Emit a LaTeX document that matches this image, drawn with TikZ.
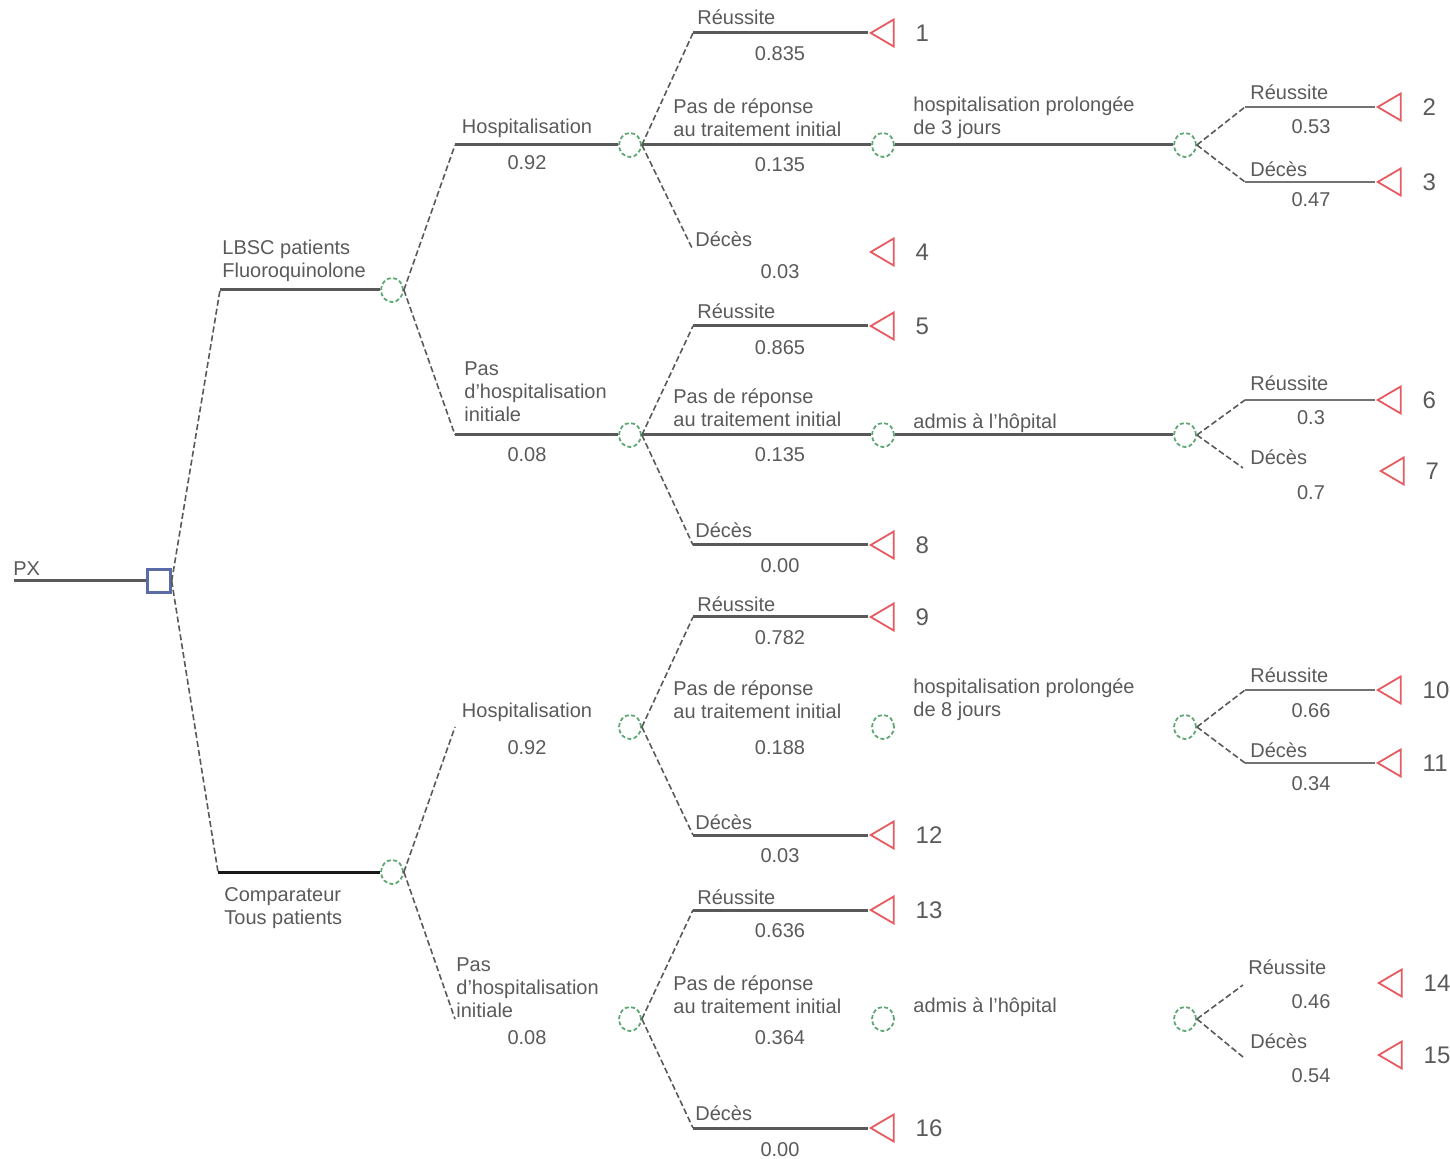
\documentclass[tikz,border=0pt]{standalone}
\usepackage{fontspec}
\setmainfont{Liberation Sans}
\usetikzlibrary{shapes.geometric}
\definecolor{decblue}{HTML}{5B6BA6}
\definecolor{chgreen}{HTML}{5FA874}
\definecolor{endred}{HTML}{E65A60}
\definecolor{txtgray}{HTML}{5A5A5A}

\begin{document}
\begin{tikzpicture}[x=.5pt,y=-.5pt,
    decision/.style={draw=decblue,line width=1.2pt,minimum size=11.5pt,inner sep=0pt},
    chance/.style={draw=chgreen,ellipse,line width=.9pt,dash pattern=on 2pt off 1.2pt,minimum width=11pt,minimum height=12pt,inner sep=0pt},
    ending/.style={draw=endred,isosceles triangle,shape border rotate=180,isosceles triangle stretches,minimum width=13.5pt,minimum height=11.5pt,inner sep=0pt,line width=.9pt,label={[endnum,label distance=7pt]right:#1}},
    endnum/.style={text=txtgray,font=\fontsize{12}{14}\selectfont},
    txt/.style={text=txtgray,font=\fontsize{10}{11.5}\selectfont,inner sep=0pt,align=left},
    branch/.style={draw=black!65,line width=1.5pt},
    subbranch/.style={draw=black!55,line width=.9pt},
    slant/.style={draw=black!65,line width=.8pt,dash pattern=on 3pt off 1.5pt}]
    \useasboundingbox (0,0) rectangle (1450,1159);

    % racine
    \coordinate (P0) at (14,581);
    \node[decision] (D0) at (159,581) {};
    \node[txt,anchor=south west] (LP) at (13,576) {PX};

    % premier niveau
    \coordinate (K1) at (220,290);
    \coordinate (K2) at (218,872);
    \node[chance] (C1) at (392,290) {};
    \node[chance] (C2) at (392,872) {};
    \node[txt,anchor=south west] (L1) at (222,282) {LBSC patients\\Fluoroquinolone};
    \node[txt,anchor=north west] (L2) at (224,887) {Comparateur\\Tous patients};

    % hospitalisation
    \coordinate (K11) at (455,145);
    \coordinate (K12) at (455,435);
    \coordinate (K21) at (455,727);
    \coordinate (K22) at (455,1019);
    \node[chance] (C11) at (630,145) {};
    \node[chance] (C12) at (630,435) {};
    \node[chance] (C21) at (630,727) {};
    \node[chance] (C22) at (630,1019) {};
    \node[txt] (L11) at (527,128) {Hospitalisation};
    \node[txt] (P11) at (527,163) {0.92};
    \node[txt,anchor=north west] (L12) at (464,361) {Pas\\d'hospitalisation\\initiale};
    \node[txt] (P12) at (527,455) {0.08};
    \node[txt] (L21) at (527,712) {Hospitalisation};
    \node[txt] (P21) at (527,748) {0.92};
    \node[txt,anchor=north west] (L22) at (456,957) {Pas\\d'hospitalisation\\initiale};
    \node[txt] (P22) at (527,1038) {0.08};

    % groupe 1
    \coordinate (K111) at (693,33);
    \coordinate (K113) at (693,250);
    \node[chance] (N1) at (883,145) {};
    \node[chance] (M1) at (1185,145) {};
    \node[ending=1] (T1) at (886,33) {};
    \node[ending=4] (T4) at (886,252) {};
    \node[txt,anchor=west] (L111) at (697,17) {Réussite};
    \node[txt] (P111) at (780,54) {0.835};
    \node[txt,anchor=west] (L112) at (673,118) {Pas de réponse\\au traitement initial};
    \node[txt] (P112) at (780,165) {0.135};
    \node[txt,anchor=west] (L113) at (695,239) {Décès};
    \node[txt] (P113) at (780,272) {0.03};
    \node[txt,anchor=west] (LN1) at (913,118) {hospitalisation prolongée\\de 3 jours};
    \coordinate (KM1a) at (1245,107);
    \coordinate (KM1b) at (1245,182);
    \node[ending=2] (T2) at (1393,107) {};
    \node[ending=3] (T3) at (1393,182) {};
    \node[txt,anchor=west] (LM1a) at (1250,92) {Réussite};
    \node[txt] (PM1a) at (1311,127) {0.53};
    \node[txt,anchor=west] (LM1b) at (1250,169) {Décès};
    \node[txt] (PM1b) at (1311,200) {0.47};

    % groupe 2
    \coordinate (K121) at (693,326);
    \coordinate (K123) at (693,545);
    \node[chance] (N2) at (883,435) {};
    \node[chance] (M2) at (1185,435) {};
    \node[ending=5] (T5) at (886,326) {};
    \node[ending=8] (T8) at (886,545) {};
    \node[txt,anchor=west] (L121) at (697,311) {Réussite};
    \node[txt] (P121) at (780,348) {0.865};
    \node[txt,anchor=west] (L122) at (673,408) {Pas de réponse\\au traitement initial};
    \node[txt] (P122) at (780,455) {0.135};
    \node[txt,anchor=west] (L123) at (695,530) {Décès};
    \node[txt] (P123) at (780,566) {0.00};
    \node[txt,anchor=west] (LN2) at (913,423) {admis à l'hôpital};
    \coordinate (KM2a) at (1245,400);
    \coordinate (KM2b) at (1243,468);
    \node[ending=6] (T6) at (1393,400) {};
    \node[ending=7] (T7) at (1396,471) {};
    \node[txt,anchor=west] (LM2a) at (1250,383) {Réussite};
    \node[txt] (PM2a) at (1311,418) {0.3};
    \node[txt,anchor=west] (LM2b) at (1250,457) {Décès};
    \node[txt] (PM2b) at (1311,493) {0.7};

    % groupe 3
    \coordinate (K211) at (693,617);
    \coordinate (K213) at (693,835);
    \node[chance] (N3) at (883,727) {};
    \node[chance] (M3) at (1185,727) {};
    \node[ending=9] (T9) at (886,617) {};
    \node[ending=12] (T12) at (886,835) {};
    \node[txt,anchor=west] (L211) at (697,604) {Réussite};
    \node[txt] (P211) at (780,638) {0.782};
    \node[txt,anchor=west] (L212) at (673,700) {Pas de réponse\\au traitement initial};
    \node[txt] (P212) at (780,748) {0.188};
    \node[txt,anchor=west] (L213) at (695,822) {Décès};
    \node[txt] (P213) at (780,856) {0.03};
    \node[txt,anchor=west] (LN3) at (913,700) {hospitalisation prolongée\\de 8 jours};
    \coordinate (KM3a) at (1245,690);
    \coordinate (KM3b) at (1245,763);
    \node[ending=10] (T10) at (1393,690) {};
    \node[ending=11] (T11) at (1393,763) {};
    \node[txt,anchor=west] (LM3a) at (1250,675) {Réussite};
    \node[txt] (PM3a) at (1311,711) {0.66};
    \node[txt,anchor=west] (LM3b) at (1250,750) {Décès};
    \node[txt] (PM3b) at (1311,784) {0.34};

    % groupe 4
    \coordinate (K221) at (693,910);
    \coordinate (K223) at (693,1128);
    \node[chance] (N4) at (883,1019) {};
    \node[chance] (M4) at (1185,1019) {};
    \node[ending=13] (T13) at (886,910) {};
    \node[ending=16] (T16) at (886,1128) {};
    \node[txt,anchor=west] (L221) at (697,897) {Réussite};
    \node[txt] (P221) at (780,931) {0.636};
    \node[txt,anchor=west] (L222) at (673,995) {Pas de réponse\\au traitement initial};
    \node[txt] (P222) at (780,1038) {0.364};
    \node[txt,anchor=west] (L223) at (695,1113) {Décès};
    \node[txt] (P223) at (780,1150) {0.00};
    \node[txt,anchor=west] (LN4) at (913,1007) {admis à l'hôpital};
    \coordinate (KM4a) at (1243,985);
    \coordinate (KM4b) at (1243,1057);
    \node[ending=14] (T14) at (1394,983) {};
    \node[ending=15] (T15) at (1394,1055) {};
    \node[txt,anchor=west] (LM4a) at (1248,967) {Réussite};
    \node[txt] (PM4a) at (1311,1002) {0.46};
    \node[txt,anchor=west] (LM4b) at (1250,1041) {Décès};
    \node[txt] (PM4b) at (1311,1076) {0.54};

    % branches
    \draw[branch] (P0)--(D0);
    \draw[slant] (D0.east)--(K1);
    \draw[slant] (D0.east)--(K2);
    \draw[branch] (K1)--(C1);
    \draw[branch,draw=black!90] (K2)--(C2);
    \draw[slant] (C1.east)--(K11);
    \draw[slant] (C1.east)--(K12);
    \draw[slant] (C2.east)--(K21);
    \draw[slant] (C2.east)--(K22);
    \draw[branch] (K11)--(C11);
    \draw[branch] (K12)--(C12);

    \draw[slant] (C11.east)--(K111);
    \draw[slant] (C11.east)--(K113);
    \draw[slant] (C12.east)--(K121);
    \draw[slant] (C12.east)--(K123);
    \draw[slant] (C21.east)--(K211);
    \draw[slant] (C21.east)--(K213);
    \draw[slant] (C22.east)--(K221);
    \draw[slant] (C22.east)--(K223);

    \draw[branch] (K111)--(T1);
    \draw[branch] (C11)--(N1);
    \draw[branch] (N1)--(M1);
    \draw[branch] (K121)--(T5);
    \draw[branch] (C12)--(N2);
    \draw[branch] (N2)--(M2);
    \draw[branch] (K123)--(T8);
    \draw[branch] (K211)--(T9);
    \draw[branch] (K213)--(T12);
    \draw[branch] (K221)--(T13);
    \draw[branch] (K223)--(T16);

    \draw[slant] (M1.east)--(KM1a);
    \draw[slant] (M1.east)--(KM1b);
    \draw[slant] (M2.east)--(KM2a);
    \draw[slant] (M2.east)--(KM2b);
    \draw[slant] (M3.east)--(KM3a);
    \draw[slant] (M3.east)--(KM3b);
    \draw[slant] (M4.east)--(KM4a);
    \draw[slant] (M4.east)--(KM4b);
    \draw[subbranch] (KM1a)--(T2);
    \draw[subbranch] (KM1b)--(T3);
    \draw[subbranch] (KM2a)--(T6);
    \draw[subbranch] (KM3a)--(T10);
    \draw[subbranch] (KM3b)--(T11);
\end{tikzpicture}
\end{document}
